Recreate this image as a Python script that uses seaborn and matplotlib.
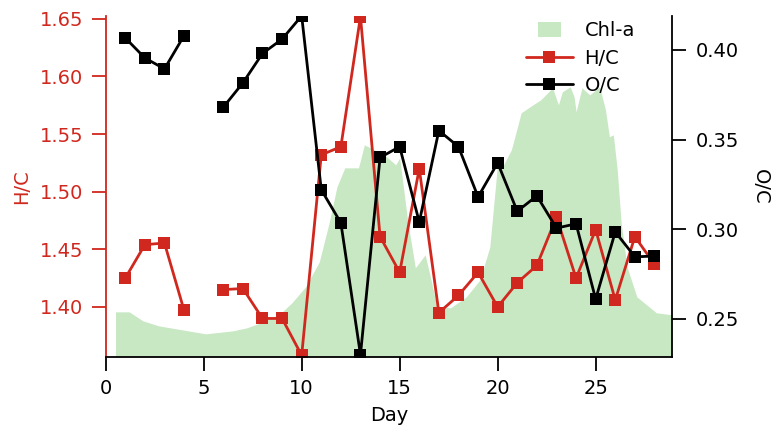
import numpy as np
import pandas as pd
import matplotlib
matplotlib.use("Agg")
import matplotlib.pyplot as plt
from matplotlib.patches import Patch, Rectangle
from matplotlib.lines import Line2D
from matplotlib.legend_handler import HandlerPatch
import seaborn as sns

# ---- data ----
days = [1, 2, 3, 4, 6, 7, 8, 9, 10, 11, 12, 13, 14, 15, 16, 17, 18, 19, 20,
        21, 22, 23, 24, 25, 26, 27, 28]
segment = [0, 0, 0, 0] + [1] * 23

hc = [1.425, 1.454, 1.4555, 1.397, 1.415, 1.416, 1.390, 1.390, 1.358, 1.532,
      1.539, 1.652, 1.461, 1.430, 1.520, 1.395, 1.410, 1.430, 1.400, 1.421,
      1.436, 1.478, 1.425, 1.467, 1.406, 1.461, 1.437]

oc = [0.4067, 0.3955, 0.3894, 0.408, 0.368, 0.3816, 0.398, 0.406, 0.419,
      0.322, 0.3035, 0.230, 0.340, 0.346, 0.304, 0.355, 0.346, 0.318, 0.337,
      0.310, 0.3186, 0.3006, 0.303, 0.261, 0.2985, 0.2846, 0.285]

chl_day = [0.5, 1.2, 1.9, 2.7, 3.0, 3.9, 5.1, 6.5, 7.2, 7.9, 8.9, 9.5, 10.2,
           10.9, 11.4, 11.8, 12.2, 12.9, 13.2, 13.7, 14.1, 14.8, 15.0, 15.4,
           15.8, 16.3, 16.6, 16.9, 17.6, 18.4, 19.1, 19.6, 20.0, 20.3, 20.7,
           21.2, 21.8, 22.2, 22.8, 23.1, 23.3, 23.7, 23.9, 24.0, 24.3, 24.7,
           25.2, 25.5, 25.7, 25.9, 26.1, 26.3, 26.6, 27.1, 27.6, 28.1, 28.9]
chl = [0.45, 0.45, 0.36, 0.31, 0.30, 0.27, 0.23, 0.26, 0.29, 0.34, 0.43, 0.54,
       0.70, 0.95, 1.34, 1.70, 1.89, 1.89, 2.12, 2.07, 2.04, 1.92, 1.99, 1.37,
       0.89, 1.02, 0.77, 0.50, 0.49, 0.60, 0.77, 1.10, 1.94, 1.92, 2.07, 2.44,
       2.52, 2.57, 2.69, 2.52, 2.65, 2.70, 2.60, 2.45, 2.69, 2.62, 2.70, 2.47,
       2.20, 2.22, 1.87, 1.34, 0.90, 0.60, 0.52, 0.44, 0.42]

df = pd.DataFrame({"day": days, "seg": segment, "hc": hc, "oc": oc})

red = "#d0281e"
green = "#c8e7c3"

sns.set_theme(style="ticks")
plt.rcParams["font.family"] = ["DejaVu Sans"]
plt.rcParams["font.size"] = 14
for k in ("text.color", "axes.labelcolor", "xtick.color", "ytick.color",
          "axes.edgecolor"):
    plt.rcParams[k] = "black"


def small_box(legend, orig_handle, xdescent, ydescent, width, height, fontsize):
    # narrower square-ish patch centred in the handle area
    w = width * 0.5
    h = height * 1.1
    return Rectangle((-xdescent + (width - w) / 2, -ydescent + (height - h) / 2), w, h)


fig = plt.figure(figsize=(7.77, 4.4), dpi=100)
ax = fig.add_axes([0.136, 0.189, 0.729, 0.775])
ax2 = ax.twinx()
ax3 = ax.twinx()

# chl-a area in the back
ax3.set_zorder(0)
ax.set_zorder(1)
ax2.set_zorder(2)
ax.patch.set_visible(False)
ax2.patch.set_visible(False)

ax3.fill_between(chl_day, chl, color=green, lw=0)
ax3.set_ylim(0, 3.41)
ax3.set_yticks([])
for s in ax3.spines.values():
    s.set_visible(False)

sns.lineplot(data=df, x="day", y="hc", units="seg", estimator=None, ax=ax,
             color=red, lw=2, marker="s", markersize=8, markeredgewidth=0)
sns.lineplot(data=df, x="day", y="oc", units="seg", estimator=None, ax=ax2,
             color="black", lw=2, marker="s", markersize=8, markeredgewidth=0)

ax.set_xlim(0, 28.9)
ax.set_ylim(1.3567, 1.6526)
ax2.set_ylim(0.2288, 0.419)
ax.set_xticks([0, 5, 10, 15, 20, 25])
ax.set_yticks([1.40, 1.45, 1.50, 1.55, 1.60, 1.65])
ax2.set_yticks([0.25, 0.30, 0.35, 0.40])
ax.yaxis.set_major_formatter(matplotlib.ticker.FormatStrFormatter("%.2f"))
ax2.yaxis.set_major_formatter(matplotlib.ticker.FormatStrFormatter("%.2f"))

for a in (ax, ax2):
    a.spines["top"].set_visible(False)
ax.spines["right"].set_visible(False)
ax2.spines["left"].set_visible(False)
ax2.spines["bottom"].set_visible(False)
ax.spines["left"].set_color(red)
ax.spines["left"].set_linewidth(1.3)
ax.spines["bottom"].set_linewidth(1.3)
ax2.spines["right"].set_linewidth(1.3)

ax.tick_params(axis="y", colors=red, length=10, width=1.3, pad=6, labelsize=14)
ax.tick_params(axis="x", length=10, width=1.3, pad=6, labelsize=14)
ax2.tick_params(axis="y", length=10, width=1.3, pad=7, labelsize=14)

ax.set_xlabel("Day", fontsize=14, labelpad=6)
ax.set_ylabel("H/C", color=red, fontsize=14, labelpad=6)
ax2.set_ylabel("O/C", fontsize=14, rotation=270, labelpad=22)

chl_handle = Patch(facecolor=green, edgecolor="none")
handles = [chl_handle,
           Line2D([], [], color=red, lw=2, marker="s", markersize=8, markeredgewidth=0),
           Line2D([], [], color="black", lw=2, marker="s", markersize=8, markeredgewidth=0)]
ax2.legend(handles, ["Chl-a", "H/C", "O/C"], loc="upper right",
           bbox_to_anchor=(0.965, 1.035), frameon=False, fontsize=14,
           handlelength=2.4, labelspacing=0.42, handletextpad=0.6,
           handler_map={chl_handle: HandlerPatch(patch_func=small_box)})

fig.savefig("out.png", dpi=100)
